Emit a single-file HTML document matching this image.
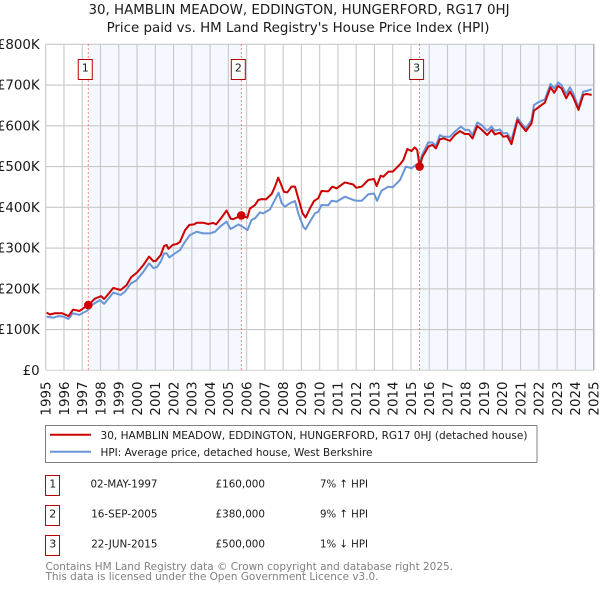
<!DOCTYPE html>
<html lang="en">
<head>
<meta charset="utf-8">
<title>30, Hamblin Meadow price chart</title>
<style>
html,body{margin:0;padding:0;background:#fff;width:600px;height:590px;overflow:hidden}
svg{display:block;font-family:"DejaVu Sans",sans-serif;fill:#000}
text{fill:#1a1a1a}
</style>
</head>
<body>
<svg id="chart" xmlns="http://www.w3.org/2000/svg" width="600" height="590" viewBox="0 0 600 590">
  <text x="299" y="14" font-size="13.4" text-anchor="middle">30, HAMBLIN MEADOW, EDDINGTON, HUNGERFORD, RG17 0HJ</text>
  <text x="298" y="32" font-size="13.4" text-anchor="middle">Price paid vs. HM Land Registry's House Price Index (HPI)</text>
  <g id="plot"></g>

  <g>
    <rect x="45.5" y="425.5" width="491.5" height="37" fill="#fff" stroke="#808080" stroke-width="1"/>
    <line x1="50" x2="91" y1="434.7" y2="434.7" stroke="#cc0000" stroke-width="2"/>
    <text x="100.5" y="439" font-size="11" textLength="427" lengthAdjust="spacingAndGlyphs">30, HAMBLIN MEADOW, EDDINGTON, HUNGERFORD, RG17 0HJ (detached house)</text>
    <line x1="50" x2="91" y1="451.7" y2="451.7" stroke="#6a96d6" stroke-width="2"/>
    <text x="100.5" y="456" font-size="11" textLength="272" lengthAdjust="spacingAndGlyphs">HPI: Average price, detached house, West Berkshire</text>
  </g>

  <g font-size="11">
    <g>
      <rect x="45.5" y="475.5" width="14" height="20" fill="#fff" stroke="#bb0000" stroke-width="1"/>
      <text x="52.7" y="487.5" text-anchor="middle">1</text>
      <text x="90.5" y="487.5" textLength="67" lengthAdjust="spacingAndGlyphs">02-MAY-1997</text>
      <text x="215.5" y="487.5" textLength="49.5" lengthAdjust="spacingAndGlyphs">£160,000</text>
      <text x="320" y="487.5" textLength="48" lengthAdjust="spacingAndGlyphs">7% ↑ HPI</text>
    </g>
    <g>
      <rect x="45.5" y="505.5" width="14" height="20" fill="#fff" stroke="#bb0000" stroke-width="1"/>
      <text x="52.7" y="517.5" text-anchor="middle">2</text>
      <text x="91.2" y="517.5" textLength="66.3" lengthAdjust="spacingAndGlyphs">16-SEP-2005</text>
      <text x="215.5" y="517.5" textLength="49.5" lengthAdjust="spacingAndGlyphs">£380,000</text>
      <text x="320" y="517.5" textLength="48" lengthAdjust="spacingAndGlyphs">9% ↑ HPI</text>
    </g>
    <g>
      <rect x="45.5" y="535.5" width="14" height="20" fill="#fff" stroke="#bb0000" stroke-width="1"/>
      <text x="52.7" y="547.5" text-anchor="middle">3</text>
      <text x="91.2" y="547.5" textLength="66.3" lengthAdjust="spacingAndGlyphs">22-JUN-2015</text>
      <text x="215.5" y="547.5" textLength="49.5" lengthAdjust="spacingAndGlyphs">£500,000</text>
      <text x="320" y="547.5" textLength="48" lengthAdjust="spacingAndGlyphs">1% ↓ HPI</text>
    </g>
  </g>

  <text x="45.5" y="570" font-size="11" textLength="407.5" lengthAdjust="spacingAndGlyphs" style="fill:#808080">Contains HM Land Registry data © Crown copyright and database right 2025.</text>
  <text x="45.5" y="580" font-size="11" textLength="333" lengthAdjust="spacingAndGlyphs" style="fill:#808080">This data is licensed under the Open Government Licence v3.0.</text>
</svg>
<script>
const yearTicks = [1995,1996,1997,1998,1999,2000,2001,2002,2003,2004,2005,2006,2007,2008,2009,2010,2011,2012,2013,2014,2015,2016,2017,2018,2019,2020,2021,2022,2023,2024,2025];
const valueTicks = [0,100,200,300,400,500,600,700,800];
const valueTickLabels = ['£0','£100K','£200K','£300K','£400K','£500K','£600K','£700K','£800K'];

const saleLabels = ['1','2','3'];
const saleDates = [1997.33,2005.71,2015.47];
const salePrices = [160,380,500];

const priceDates = [1995.05,1995.24,1995.5,1995.9,1996.25,1996.5,1996.85,1997.06,1997.33,1997.7,1998.03,1998.2,1998.7,1999.1,1999.43,1999.67,2000,2000.35,2000.66,2000.9,2001.04,2001.3,2001.48,2001.62,2001.72,2001.95,2002.17,2002.35,2002.63,2002.87,2003.12,2003.27,2003.63,2003.9,2004.18,2004.33,2004.64,2004.9,2005.13,2005.27,2005.71,2006.04,2006.18,2006.46,2006.64,2006.82,2007.06,2007.37,2007.55,2007.73,2007.86,2008.04,2008.23,2008.46,2008.65,2008.83,2009.07,2009.23,2009.47,2009.69,2009.92,2010.1,2010.47,2010.69,2010.93,2011.38,2011.84,2011.99,2012.3,2012.66,2012.97,2013.12,2013.34,2013.48,2013.76,2014,2014.4,2014.58,2014.8,2015.03,2015.2,2015.34,2015.47,2015.63,2015.95,2016.17,2016.37,2016.58,2016.8,2017.13,2017.4,2017.68,2017.95,2018.17,2018.37,2018.63,2018.86,2019.17,2019.41,2019.59,2019.87,2020.05,2020.27,2020.5,2020.83,2021.05,2021.29,2021.6,2021.73,2021.97,2022.33,2022.64,2022.84,2023.06,2023.24,2023.5,2023.7,2023.88,2024.17,2024.43,2024.61,2024.89];
const priceValues = [141.5,137,140,140,133,149,145.6,152,160,176,182,175,202,197,209,228,240,258.5,279,267.5,269,283,305,307.6,298,307.6,310,315,344,357,358,362,362,359,361.6,358,375.5,392,372,371,380,374.5,397,405.6,418,420,419.5,432.6,450.6,472.7,459,438,436.7,450.6,450.6,422,385,375,397.5,415.5,422,440,439,450.6,446.5,461,456,448,450.6,467,469.5,452.3,477.6,475,487.4,487.4,505.4,516,543,538,547,540.6,500,524,549,553,544.7,567,569,563,577.5,587,580,580,569,599.6,591,577.5,590,579,583,573,575,555,614,600,587,606,637,645,657,694.5,681,698,692,667.5,684,670,639,675.7,678,676];

const hpiDates = [1995.05,1995.42,1995.7,1995.97,1996.24,1996.48,1996.84,1997.06,1997.28,1997.52,1997.97,1998.2,1998.7,1999.1,1999.34,1999.67,1999.95,2000.35,2000.66,2000.9,2001.08,2001.3,2001.48,2001.62,2001.77,2002.08,2002.35,2002.63,2002.9,2003.26,2003.63,2003.99,2004.27,2004.54,2004.9,2005.12,2005.3,2005.55,2005.82,2006.05,2006.27,2006.46,2006.73,2006.91,2007.28,2007.55,2007.75,2007.92,2008.1,2008.37,2008.65,2008.83,2009.1,2009.23,2009.47,2009.74,2009.92,2010.1,2010.47,2010.65,2010.93,2011.38,2011.84,2012.02,2012.3,2012.66,2012.97,2013.14,2013.39,2013.76,2014,2014.4,2014.72,2015.03,2015.2,2015.45,2015.63,2015.95,2016.17,2016.37,2016.58,2016.77,2017.13,2017.4,2017.73,2017.95,2018.17,2018.37,2018.63,2018.86,2019.17,2019.41,2019.59,2019.87,2020.05,2020.27,2020.5,2020.83,2021.05,2021.29,2021.6,2021.73,2021.97,2022.33,2022.64,2022.84,2023.06,2023.24,2023.5,2023.7,2023.88,2024.17,2024.43,2024.61,2024.89];
const hpiValues = [131.7,129,133,131.7,126,140,136,141.5,146.4,160,172.6,163,190.6,185,193,213.5,220,242,262.6,251,253,266.7,287,287,277,287,295,315.6,332,340,336,336,340,352.4,364.7,346.7,351,358,351,344,369,373,387.6,385,395,418,436,410,401.5,410,415.4,385,352.5,346,364.7,385,389,405.6,405,416,414,426,418,416,416,432,434,416,441,450.6,449,467,500,495.6,502,508,530.8,559.4,559,551,577,573,573,585.7,598,590,590,577.5,608,602,588,598,588,591,581.6,581.6,565,620,606,594,614,651,657.7,665,702.6,692,706,700,678,694.5,680,645.4,684,685.5,689.6];

const SVG_NS = 'http://www.w3.org/2000/svg';
const plot = document.getElementById('plot');
const xScale = d => 45.7 + (d - 1995) * 18.265;
const yScale = v => 370.3 - v * 0.4075;

function make(tag, attrs, text) {
  const el = document.createElementNS(SVG_NS, tag);
  for (const k in attrs) el.setAttribute(k, attrs[k]);
  if (text !== undefined) el.textContent = text;
  plot.appendChild(el);
  return el;
}

const shadeEnd = yearTicks[yearTicks.length - 1];
const shadeSpans = [[saleDates[0], saleDates[1]], [saleDates[2], shadeEnd]];
shadeSpans.forEach(s => {
  const el = make('rect', {x: xScale(s[0]), y: yScale(800), width: xScale(s[1]) - xScale(s[0]), height: yScale(0) - yScale(800), fill: '#f5f8ff'});
  
  
});

yearTicks.forEach(t => {
  const x = xScale(t);
  const line = make('line', {x1: x, x2: x, y1: yScale(800), y2: yScale(0), stroke: t === 2025 ? '#a8a8a8' : '#c8c8c8', 'stroke-width': 1.1});
  
  
  const label = make('text', {x: 0, y: 0, 'font-size': 13.4, 'text-anchor': 'end', transform: 'translate(' + (x + 4.8) + ',381.5) rotate(-90)'}, String(t));
  
  
});

valueTicks.forEach((v, i) => {
  const y = yScale(v);
  const line = make('line', {x1: xScale(1995), x2: 594.5, y1: y, y2: y, stroke: (v === 0 ? '#d4d4d4' : '#c8c8c8'), 'stroke-width': 1.1});
  
  
  const label = make('text', {x: 39.7, y: y + 4.6, 'font-size': 13.4, 'text-anchor': 'end'}, valueTickLabels[i]);
  
  
});

const rightBorder = make('line', {x1: 594.7, x2: 594.7, y1: yScale(800), y2: yScale(0), stroke: '#dcdcdc', 'stroke-width': 1});



function pathFrom(dates, values) {
  return dates.map((d, i) => (i ? 'L' : 'M') + xScale(d).toFixed(2) + ' ' + yScale(values[i]).toFixed(2)).join(' ');
}

saleDates.forEach(d => {
  const x = xScale(d);
  const el = make('line', {x1: x, x2: x, y1: yScale(800), y2: yScale(0), stroke: '#ff5a5a', 'stroke-width': 1, 'stroke-dasharray': '1.5 2.5'});
  
  
});

const hpiLine = make('path', {d: pathFrom(hpiDates, hpiValues), fill: 'none', stroke: '#6a96d6', 'stroke-width': 2, 'stroke-linejoin': 'round'});



const priceLine = make('path', {d: pathFrom(priceDates, priceValues), fill: 'none', stroke: '#cc0000', 'stroke-width': 2, 'stroke-linejoin': 'round'});



saleDates.forEach((d, i) => {
  const x = xScale(d);
  const dot = make('circle', {cx: x, cy: yScale(salePrices[i]), r: 4.3, fill: '#cc0000'});
  
  
  const box = make('rect', {x: x - 10, y: 59.5, width: 14, height: 20, fill: '#fff', stroke: '#bb0000', 'stroke-width': 1});
  
  
  const num = make('text', {x: x - 3, y: 71.5, 'font-size': 11, 'text-anchor': 'middle'}, saleLabels[i]);
  
  
});
</script>
</body>
</html>
